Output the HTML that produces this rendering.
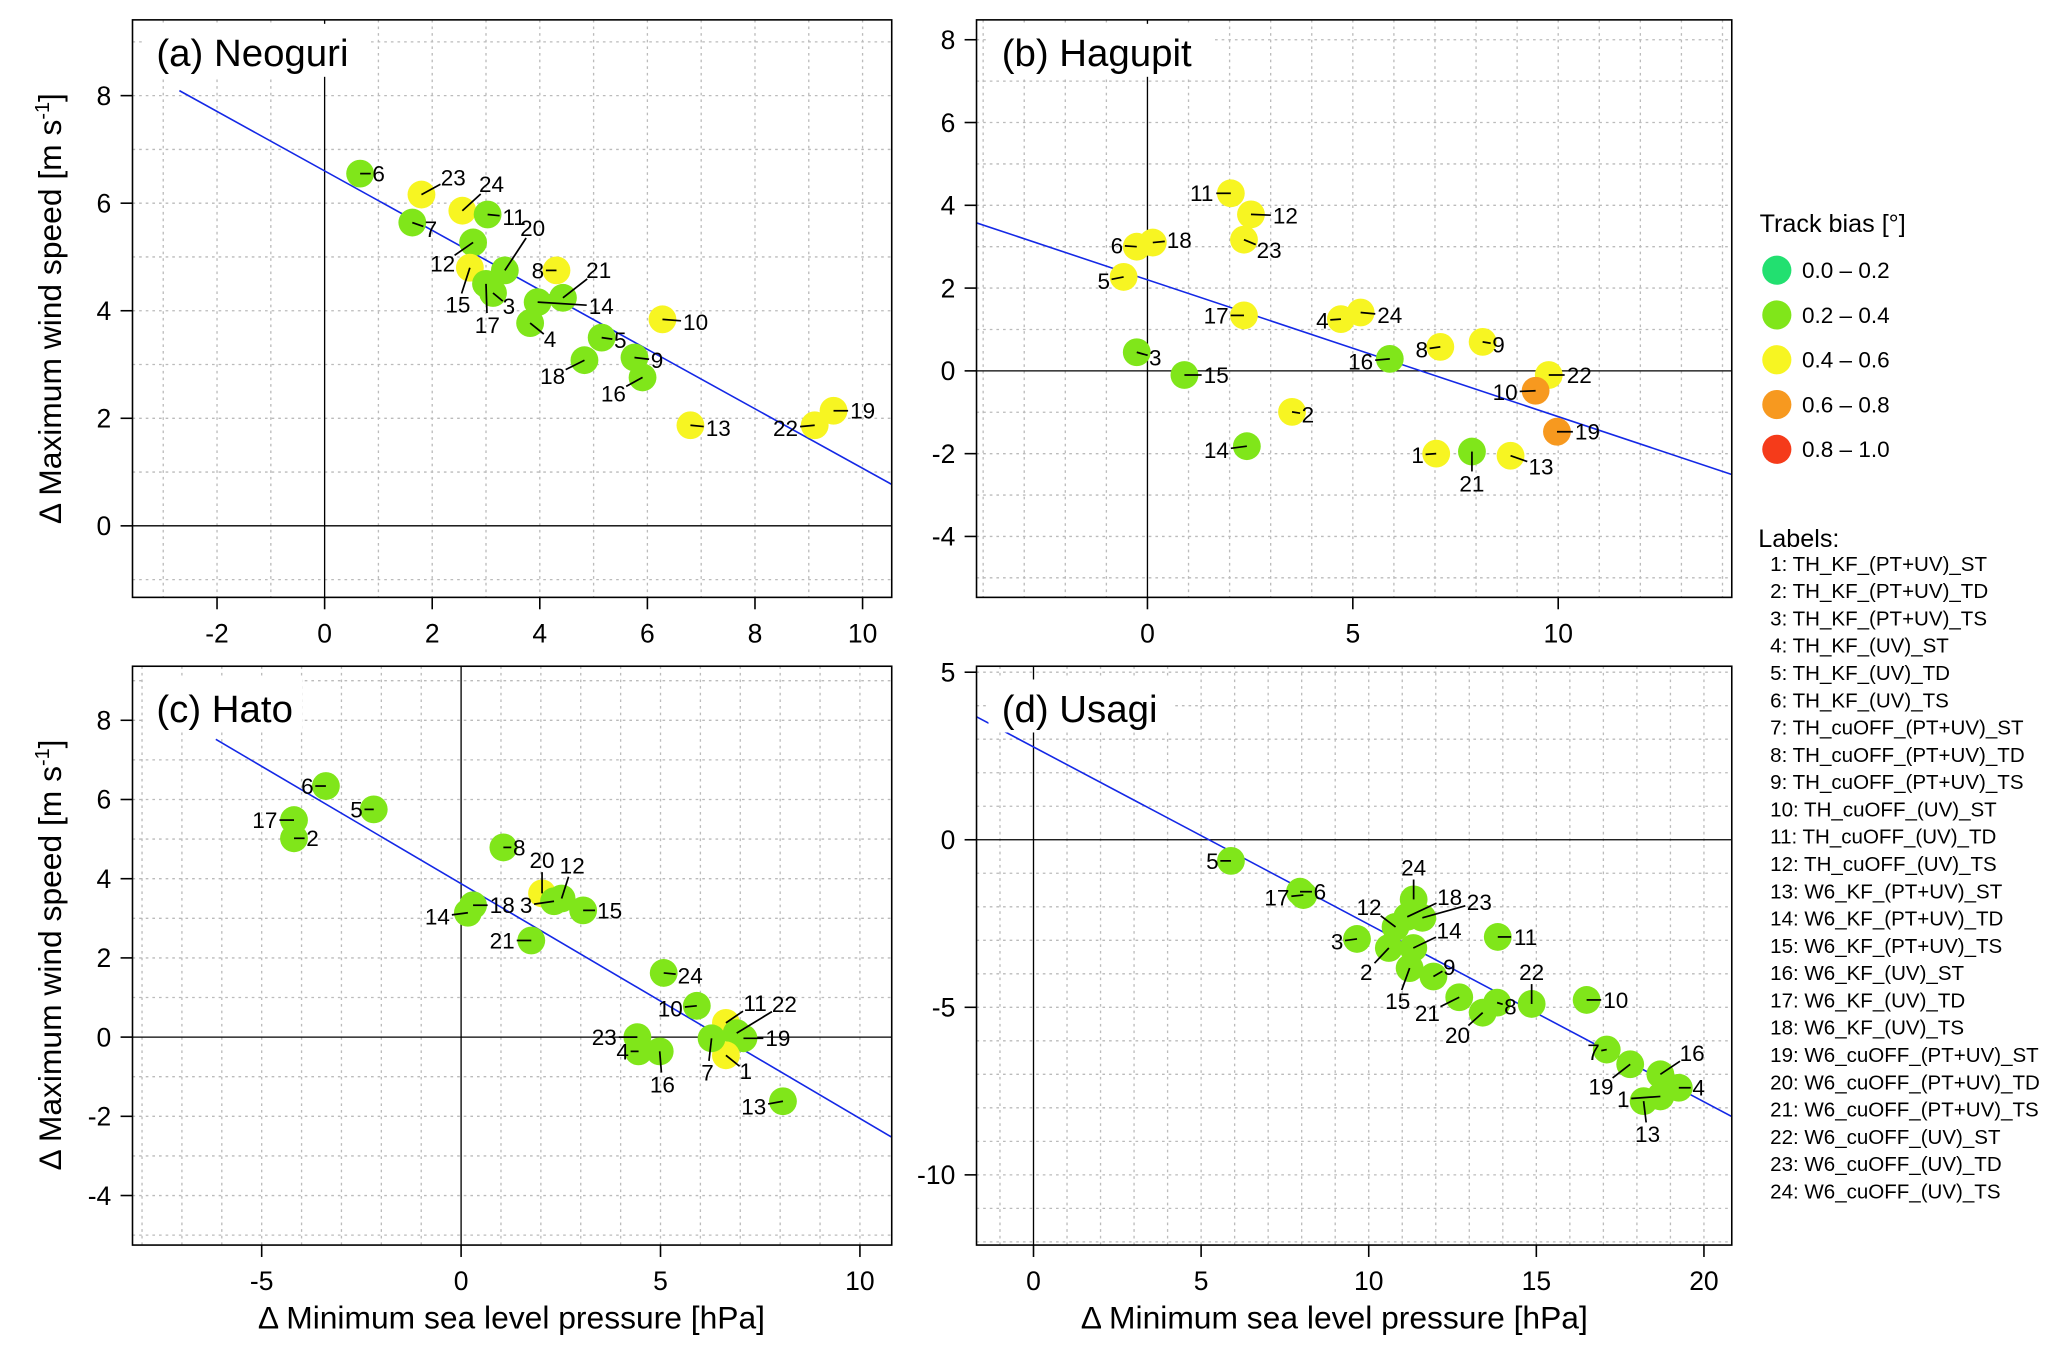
<!DOCTYPE html>
<html><head><meta charset="utf-8">
<style>
html,body{margin:0;padding:0;background:#fff;}
svg{display:block;font-family:"Liberation Sans",Arial,sans-serif;}
</style></head>
<body>
<svg id="fig" width="2067" height="1355" viewBox="0 0 1560 1023" preserveAspectRatio="none" xmlns="http://www.w3.org/2000/svg">
<rect width="1560" height="1023" fill="#fff"/>
<g id="panels"></g>
<text transform="translate(46,233) rotate(-90)" text-anchor="middle" font-size="24">Δ Maximum wind speed [m s<tspan font-size="15" dy="-9">-1</tspan><tspan dy="9">]</tspan></text>
<text transform="translate(46,721) rotate(-90)" text-anchor="middle" font-size="24">Δ Maximum wind speed [m s<tspan font-size="15" dy="-9">-1</tspan><tspan dy="9">]</tspan></text>
<text x="386" y="1003" text-anchor="middle" font-size="24">Δ Minimum sea level pressure [hPa]</text>
<text x="1007" y="1003" text-anchor="middle" font-size="24">Δ Minimum sea level pressure [hPa]</text>
<g id="legend"></g>
</svg>
<script>
const NS="http://www.w3.org/2000/svg";
const catColors=["#22e070","#80e61a","#f7f522","#f7991f","#f53b1a"];
const catNames=["0.0 – 0.2","0.2 – 0.4","0.4 – 0.6","0.6 – 0.8","0.8 – 1.0"];
const panelTitles=["(a) Neoguri","(b) Hagupit","(c) Hato","(d) Usagi"];
const slopes=[-0.553,-0.3306,-0.5928,-0.5295];
const intercepts=[6.6,2.2,3.874,2.77];
const lineStart=[-2.7,-4.2,-6.15,-1.75];
const xTicks=[[-2,0,2,4,6,8,10],[0,5,10],[-5,0,5,10],[0,5,10,15,20]];
const yTicks=[[0,2,4,6,8],[-4,-2,0,2,4,6,8],[-4,-2,0,2,4,6,8],[-10,-5,0,5]];
const labelsA=[6,23,24,11,7,12,15,17,3,20,8,21,14,4,5,10,9,18,16,13,22,19];
const xA=[0.66,1.8,2.56,3.03,1.63,2.76,2.7,3.0,3.13,3.35,4.31,4.43,3.96,3.82,5.15,6.28,5.76,4.83,5.91,6.8,9.11,9.46];
const yA=[6.55,6.16,5.86,5.79,5.64,5.27,4.8,4.5,4.33,4.75,4.75,4.24,4.16,3.77,3.5,3.84,3.13,3.08,2.76,1.87,1.87,2.14];
const catA=[1,2,2,1,1,1,2,1,1,1,2,1,1,1,1,2,1,1,1,2,2,2];
const labelsB=[11,12,23,6,18,5,17,4,24,8,9,16,3,15,22,10,19,2,14,1,21,13];
const xB=[2.03,2.52,2.35,-0.26,0.13,-0.58,2.35,4.71,5.19,7.13,8.16,5.9,-0.26,0.9,9.77,9.45,9.97,3.52,2.42,7.03,7.9,8.84];
const yB=[4.29,3.78,3.17,3.0,3.1,2.27,1.34,1.25,1.41,0.58,0.7,0.29,0.45,-0.1,-0.1,-0.48,-1.47,-0.99,-1.82,-2.0,-1.95,-2.05];
const catB=[2,2,2,2,2,2,2,2,2,2,2,1,1,1,2,3,3,2,1,2,1,2];
const labelsC=[6,17,2,5,8,20,12,3,15,14,18,21,24,10,11,22,19,1,7,23,4,16,13];
const xC=[-3.39,-4.19,-4.19,-2.19,1.06,2.03,2.52,2.33,3.06,0.17,0.3,1.76,5.08,5.91,6.64,6.91,7.08,6.64,6.28,4.42,4.45,4.98,8.07];
const yC=[6.34,5.48,5.02,5.75,4.79,3.63,3.5,3.43,3.2,3.14,3.33,2.44,1.62,0.79,0.36,0.1,-0.03,-0.46,-0.03,0,-0.36,-0.36,-1.62];
const catC=[1,1,1,1,1,2,1,1,1,1,1,1,1,1,2,1,1,2,1,1,1,1,1];
const labelsD=[5,17,6,24,18,23,12,14,3,2,15,9,21,20,8,22,11,10,7,19,16,4,1,13];
const xD=[5.89,8.05,7.95,11.34,11.15,11.6,10.8,11.33,9.65,10.6,11.22,11.93,12.7,13.4,13.83,14.86,13.85,16.5,17.1,17.8,18.7,19.25,18.7,18.2];
const yD=[-0.63,-1.65,-1.55,-1.78,-2.3,-2.33,-2.6,-3.23,-2.96,-3.23,-3.83,-4.08,-4.7,-5.16,-4.86,-4.9,-2.9,-4.78,-6.26,-6.7,-7.0,-7.4,-7.66,-7.8];
const catD=[1,1,1,1,1,1,1,1,1,1,1,1,1,1,1,1,1,1,1,1,1,1,1,1];
const listLabels=["1: TH_KF_(PT+UV)_ST","2: TH_KF_(PT+UV)_TD","3: TH_KF_(PT+UV)_TS","4: TH_KF_(UV)_ST","5: TH_KF_(UV)_TD","6: TH_KF_(UV)_TS","7: TH_cuOFF_(PT+UV)_ST","8: TH_cuOFF_(PT+UV)_TD","9: TH_cuOFF_(PT+UV)_TS","10: TH_cuOFF_(UV)_ST","11: TH_cuOFF_(UV)_TD","12: TH_cuOFF_(UV)_TS","13: W6_KF_(PT+UV)_ST","14: W6_KF_(PT+UV)_TD","15: W6_KF_(PT+UV)_TS","16: W6_KF_(UV)_ST","17: W6_KF_(UV)_TD","18: W6_KF_(UV)_TS","19: W6_cuOFF_(PT+UV)_ST","20: W6_cuOFF_(PT+UV)_TD","21: W6_cuOFF_(PT+UV)_TS","22: W6_cuOFF_(UV)_ST","23: W6_cuOFF_(UV)_TD","24: W6_cuOFF_(UV)_TS"];

const offA=[[14,0],[24,-13],[22,-20],[20,2],[14,5],[-23,16],[-9,28],[1,31],[12,10],[21,-32],[-14,0],[27,-21],[48,3],[15,12],[14,2],[25,2],[17,2],[-24,12],[-22,12],[21,2],[-22,2],[22,0]];
const offB=[[-22,0],[26,1],[19,8],[-15,-1],[20,-2],[-15,3],[-21,0],[-14,1],[22,2],[-14,2],[12,2],[-22,2],[14,4],[24,0],[23,0],[-23,1],[23,0],[12,2],[-23,3],[-14,1],[0,24],[23,8]];
const offC=[[-14,0],[-22,0],[14,0],[-13,0],[12,0],[0,-25],[8,-25],[-21,3],[20,0],[-23,3],[22,0],[-22,0],[20,2],[-20,2],[22,-15],[36,-22],[26,0],[15,12],[-3,26],[-25,0],[-12,0],[2,25],[-22,4]];
const offD=[[-14,0],[-20,2],[15,0],[0,-24],[32,-15],[43,-12],[-20,-15],[27,-13],[-15,2],[-17,18],[-9,25],[12,-7],[-24,12],[-19,17],[10,3],[0,-24],[21,0],[22,0],[-10,2],[-22,17],[24,-16],[15,0],[-28,2],[3,25]];

const frames=[[100,15,673,451],[737,15,1307,451],[100,503,673,940],[737,503,1307,940]];
const origins=[[245,397],[866,280],[348,783],[780,634]];
const scales=[[40.6,40.6],[31,31.25],[30.1,29.9],[25.3,25.3]];
const titleBox=[[108,18,170,40],[746,18,170,40],[108,513,120,40],[746,513,140,40]];
const dataSets=[[labelsA,xA,yA,catA,offA],[labelsB,xB,yB,catB,offB],[labelsC,xC,yC,catC,offC],[labelsD,xD,yD,catD,offD]];
const names=["neoguri","hagupit","hato","usagi"];

function mk(tag,attrs,parent){const e=document.createElementNS(NS,tag);for(const k in attrs)e.setAttribute(k,attrs[k]);parent.appendChild(e);return e;}
const root=document.getElementById('panels');
for(let p=0;p<4;p++){
  const [L,T,R,B]=frames[p],[ox,oy]=origins[p],[sx,sy]=scales[p];
  const X=v=>ox+v*sx, Y=v=>oy-v*sy;
  const g=mk('g',{},root);
  
  
  const cp='clip'+p;
  const cl=mk('clipPath',{id:cp},g);mk('rect',{x:L,y:T,width:R-L,height:B-T},cl);
  const inner=mk('g',{'clip-path':'url(#'+cp+')'},g);
  for(let v=Math.ceil((L-ox)/sx);v<=(R-ox)/sx;v++){if(v===0)continue;const l=mk('line',{x1:X(v),x2:X(v),y1:T,y2:B,stroke:'#bbb','stroke-width':1,'stroke-dasharray':'2,3'},inner);}
  for(let v=Math.ceil((oy-B)/sy);v<=(oy-T)/sy;v++){if(v===0)continue;const l=mk('line',{y1:Y(v),y2:Y(v),x1:L,x2:R,stroke:'#bbb','stroke-width':1,'stroke-dasharray':'2,3'},inner);}
  const z1=mk('line',{x1:L,x2:R,y1:Y(0),y2:Y(0),stroke:'#000','stroke-width':1},inner);
  const z2=mk('line',{x1:X(0),x2:X(0),y1:T,y2:B,stroke:'#000','stroke-width':1},inner);
  const xe=(R-ox)/sx;
  const rl=mk('line',{x1:X(lineStart[p]),y1:Y(intercepts[p]+slopes[p]*lineStart[p]),x2:X(xe),y2:Y(intercepts[p]+slopes[p]*xe),stroke:'#1428e6','stroke-width':1.2},inner);
  
  const [lab,xs,ys,cat,off]=dataSets[p];
  for(let i=0;i<lab.length;i++){
    const c=mk('circle',{cx:X(xs[i]),cy:Y(ys[i]),r:10.5,fill:catColors[cat[i]]},inner);
    
    
  }
  for(let i=0;i<lab.length;i++){
    const px=X(xs[i]),py=Y(ys[i]),[dx,dy]=off[i];
    const d=Math.hypot(dx,dy),ux=dx/d,uy=dy/d,r=Math.abs(dx)>Math.abs(dy)?(String(lab[i]).length>1?11:6):9;
    const ln=mk('line',{x1:px,y1:py,x2:px+dx-ux*r,y2:py+dy-uy*r,stroke:'#000','stroke-width':1.3},inner);
    
    const t=mk('text',{x:px+dx,y:py+dy+6,'text-anchor':'middle','font-size':17},inner);
    t.textContent=lab[i];
    
  }
  const tb=titleBox[p];
  mk('rect',{x:tb[0],y:tb[1],width:tb[2],height:tb[3],fill:'#fff'},g);
  const tt=mk('text',{x:tb[0]+10,y:tb[1]+32,'font-size':29},g);tt.textContent=panelTitles[p];
  
  const fr=mk('rect',{x:L,y:T,width:R-L,height:B-T,fill:'none',stroke:'#000','stroke-width':1.2},g);
  
  for(const v of xTicks[p]){
    mk('line',{x1:X(v),x2:X(v),y1:B,y2:B+9,stroke:'#000','stroke-width':1.2},g);
    const t=mk('text',{x:X(v),y:B+34,'text-anchor':'middle','font-size':20},g);t.textContent=v;
    
  }
  for(const v of yTicks[p]){
    mk('line',{x1:L,x2:L-9,y1:Y(v),y2:Y(v),stroke:'#000','stroke-width':1.2},g);
    const t=mk('text',{x:L-16,y:Y(v)+7,'text-anchor':'end','font-size':20},g);t.textContent=v;
    
  }
}
const lg=document.getElementById('legend');
const lt=mk('text',{x:1328,y:175,'font-size':19},lg);lt.textContent='Track bias [°]';

for(let i=0;i<5;i++){
  const y=204+i*33.8;
  const c=mk('circle',{cx:1341,cy:y,r:11,fill:catColors[i]},lg);
  
  const t=mk('text',{x:1360,y:y+6,'font-size':17},lg);t.textContent=catNames[i];
  
}
const lh=mk('text',{x:1327,y:413,'font-size':19},lg);lh.textContent='Labels:';

for(let i=0;i<24;i++){
  const t=mk('text',{x:1336,y:431+i*20.6,'font-size':15.5},lg);t.textContent=listLabels[i];
  
}
</script>
</body></html>
